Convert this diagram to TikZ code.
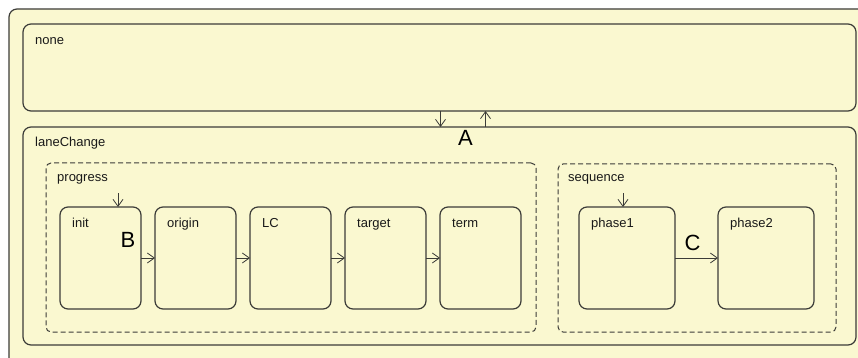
\documentclass[tikz,border=0pt]{standalone}
\usepackage{fontspec}
\setmainfont{Liberation Sans}
\usetikzlibrary{arrows.meta, positioning}
\definecolor{cFill}{RGB}{250,248,208}
\definecolor{cLine}{RGB}{60,60,56}
\tikzset{
	region/.style={rectangle, rounded corners=8pt, draw=cLine, line width=1.2pt, fill=cFill, anchor=north west, inner sep=0pt, outer sep=0pt},
	group/.style ={rectangle, rounded corners=5pt, draw=cLine, line width=1pt, dash pattern=on 5pt off 3pt, anchor=north west, inner sep=0pt, outer sep=0pt},
	state/.style ={rectangle, rounded corners=8pt, draw=cLine, line width=1.2pt, fill=cFill, minimum width=81pt, minimum height=102pt, inner sep=0pt, outer sep=0pt},
	lbl/.style   ={anchor=base west, inner sep=0pt, font=\fontsize{13}{15}\selectfont, text=black!90},
	bigtag/.style={inner sep=0pt, font=\fontsize{22}{24}\selectfont},
	trans/.style ={-{Straight Barb[length=7pt, width=10pt]}, draw=cLine, line width=0.8pt},
}
\begin{document}
\begin{tikzpicture}[x=1pt, y=-1pt, node distance=14pt]
	\clip (0,0) rectangle (858,358);
	% enclosing region, runs off the page on the right and bottom
	\draw[fill=cFill, draw=cLine, line width=1.2pt, rounded corners=8pt] (9,9) rectangle (900,400);

	% top level states
	\node[region, minimum width=833pt, minimum height=87pt] (none) at (23,24) {};
	\node[lbl] (none-t) at ([shift={(12,21)}]none.north west) {none};
	\node[region, minimum width=833pt, minimum height=218pt] (lane) at (23,127) {};
	\node[lbl] (lane-t) at ([shift={(12,20)}]lane.north west) {laneChange};

	\draw[trans] (none.south) ++(1,0) coordinate (aDown) -- (aDown |- lane.north);
	\draw[trans] ([xshift=46]lane.north) -- ([xshift=46]none.south);
	\node[bigtag] (A) at ([shift={(26,11)}]lane.north) {A};

	% parallel regions
	\node[group, minimum width=490pt, minimum height=169pt] (prog) at (46,163) {};
	\node[lbl] (prog-t) at ([shift={(11,19)}]prog.north west) {progress};
	\node[group, minimum width=278pt, minimum height=168pt] (seq) at (558,164) {};
	\node[lbl] (seq-t) at ([shift={(10,18)}]seq.north west) {sequence};

	% progress chain
	\node[state, anchor=north west] (init) at (60,207) {};
	\node[state, right=of init] (origin) {};
	\node[state, right=of origin] (lc) {};
	\node[state, right=of lc] (target) {};
	\node[state, right=of target] (term) {};
	\foreach \s/\t in {init/init, origin/origin, lc/LC, target/target, term/term}
		\node[lbl] (\s-t) at ([shift={(12,20)}]\s.north west) {\t};

	\coordinate (initIn) at (118,193);
	\draw[trans] (initIn) -- (initIn |- init.north);
	\draw[trans] (init) -- (origin);
	\draw[trans] (origin) -- (lc);
	\draw[trans] (lc) -- (target);
	\draw[trans] (target) -- (term);
	\node[bigtag] (B) at ([shift={(-13,-18)}]init.east) {B};

	% sequence chain
	\node[state, anchor=north west, minimum width=96pt] (ph1) at (579,207) {};
	\node[state, right=43pt of ph1, minimum width=96pt] (ph2) {};
	\node[lbl] (ph1-t) at ([shift={(12,20)}]ph1.north west) {phase1};
	\node[lbl] (ph2-t) at ([shift={(12,20)}]ph2.north west) {phase2};

	\coordinate (seqIn) at (623,193);
	\draw[trans] (seqIn) -- (seqIn |- ph1.north);
	\draw[trans] (ph1) -- node[bigtag, above=7pt, xshift=-4pt] (C) {C} (ph2);
\end{tikzpicture}
\end{document}
